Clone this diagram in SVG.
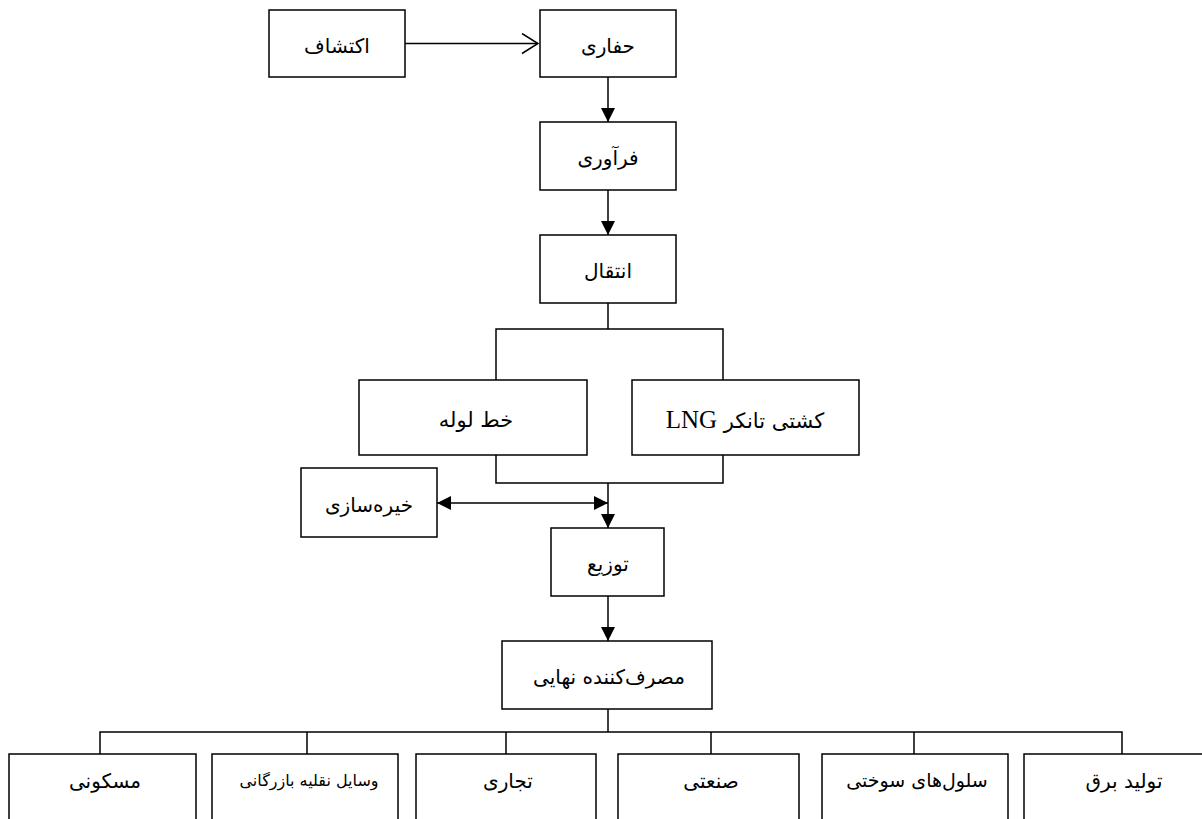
<svg xmlns="http://www.w3.org/2000/svg" width="1202" height="819" viewBox="0 0 1202 819">
<style>
.box{fill:#fff;stroke:#000;stroke-width:1.5}
.lbl{font-family:"DejaVu Sans","Noto Sans",sans-serif;font-size:20px;fill:#000;text-anchor:middle}
.c{fill:none;stroke:#000;stroke-width:1.5}
</style>
<defs>
<marker id="fa" markerUnits="userSpaceOnUse" markerWidth="14" markerHeight="14" refX="14" refY="7" orient="auto-start-reverse">
<path d="M0,0 L14,7 L0,14 z" fill="#000"/>
</marker>
<marker id="oa" markerUnits="userSpaceOnUse" markerWidth="18" markerHeight="22" refX="17" refY="11" orient="auto">
<path d="M1,1 L17,11 L1,21" fill="none" stroke="#000" stroke-width="1.5"/>
</marker>
</defs>
<rect width="1202" height="819" fill="#fff"/>
<g id="connectors">
<line class="c" x1="405" y1="43.5" x2="538" y2="43.5" marker-end="url(#oa)"/>
<line class="c" x1="608" y1="77" x2="608" y2="122" marker-end="url(#fa)"/>
<line class="c" x1="608" y1="190" x2="608" y2="235" marker-end="url(#fa)"/>
<polyline class="c" points="608,303 608,329"/>
<polyline class="c" points="496,380 496,329 723,329 723,380"/>
<polyline class="c" points="496,455 496,483 723,483 723,455"/>
<line class="c" x1="608" y1="483" x2="608" y2="528" marker-end="url(#fa)"/>
<line class="c" x1="437" y1="503" x2="608" y2="503" marker-start="url(#fa)" marker-end="url(#fa)"/>
<line class="c" x1="608" y1="596" x2="608" y2="641" marker-end="url(#fa)"/>
<polyline class="c" points="608,709 608,732"/>
<polyline class="c" points="100,754 100,732 1122,732 1122,754"/>
<line class="c" x1="307" y1="732" x2="307" y2="754"/>
<line class="c" x1="506" y1="732" x2="506" y2="754"/>
<line class="c" x1="711" y1="732" x2="711" y2="754"/>
<line class="c" x1="914" y1="732" x2="914" y2="754"/>
</g>
<g id="explore"><rect class="box" x="269" y="10" width="136" height="67"/><text class="lbl" direction="rtl" x="337" y="53">اکتشاف</text></g>
<g id="drill"><rect class="box" x="540" y="10" width="136" height="67"/><text class="lbl" direction="rtl" x="608" y="53">حفاری</text></g>
<g id="process"><rect class="box" x="540" y="122" width="136" height="68"/><text class="lbl" direction="rtl" x="608" y="165">فرآوری</text></g>
<g id="transport"><rect class="box" x="540" y="235" width="136" height="68"/><text class="lbl" direction="rtl" x="608" y="278">انتقال</text></g>
<g id="pipeline"><rect class="box" x="359" y="380" width="228" height="75"/><text class="lbl" direction="rtl" x="476" y="427" style="font-size:21px">خط لوله</text></g>
<g id="lng"><rect class="box" x="632" y="380" width="227" height="75"/><text class="lbl" direction="rtl" x="745" y="428" style="font-size:21px">کشتی تانکر <tspan style="font-family:'Liberation Serif',serif;font-size:25px">LNG</tspan></text></g>
<g id="storage"><rect class="box" x="301" y="468" width="136" height="69"/><text class="lbl" direction="rtl" x="369" y="512">خیره‌سازی</text></g>
<g id="distribution"><rect class="box" x="551" y="528" width="113" height="68"/><text class="lbl" direction="rtl" x="608" y="571">توزیع</text></g>
<g id="consumer"><rect class="box" x="502" y="641" width="210" height="68"/><text class="lbl" direction="rtl" x="609" y="684">مصرف‌کننده نهایی</text></g>
<g id="residential"><rect class="box" x="9" y="754" width="187" height="80"/><text class="lbl" direction="rtl" x="105" y="788">مسکونی</text></g>
<g id="vehicles"><rect class="box" x="212" y="754" width="186" height="80"/><text class="lbl" direction="rtl" x="309" y="786" style="font-size:16px">وسایل نقلیه بازرگانی</text></g>
<g id="commercial"><rect class="box" x="416" y="754" width="180" height="80"/><text class="lbl" direction="rtl" x="508" y="788">تجاری</text></g>
<g id="industrial"><rect class="box" x="618" y="754" width="181" height="80"/><text class="lbl" direction="rtl" x="711" y="788">صنعتی</text></g>
<g id="fuelcells"><rect class="box" x="822" y="754" width="186" height="80"/><text class="lbl" direction="rtl" x="917" y="787" style="font-size:19px">سلول‌های سوختی</text></g>
<g id="power"><rect class="box" x="1024" y="754" width="200" height="80"/><text class="lbl" direction="rtl" x="1124" y="788">تولید برق</text></g>
</svg>
